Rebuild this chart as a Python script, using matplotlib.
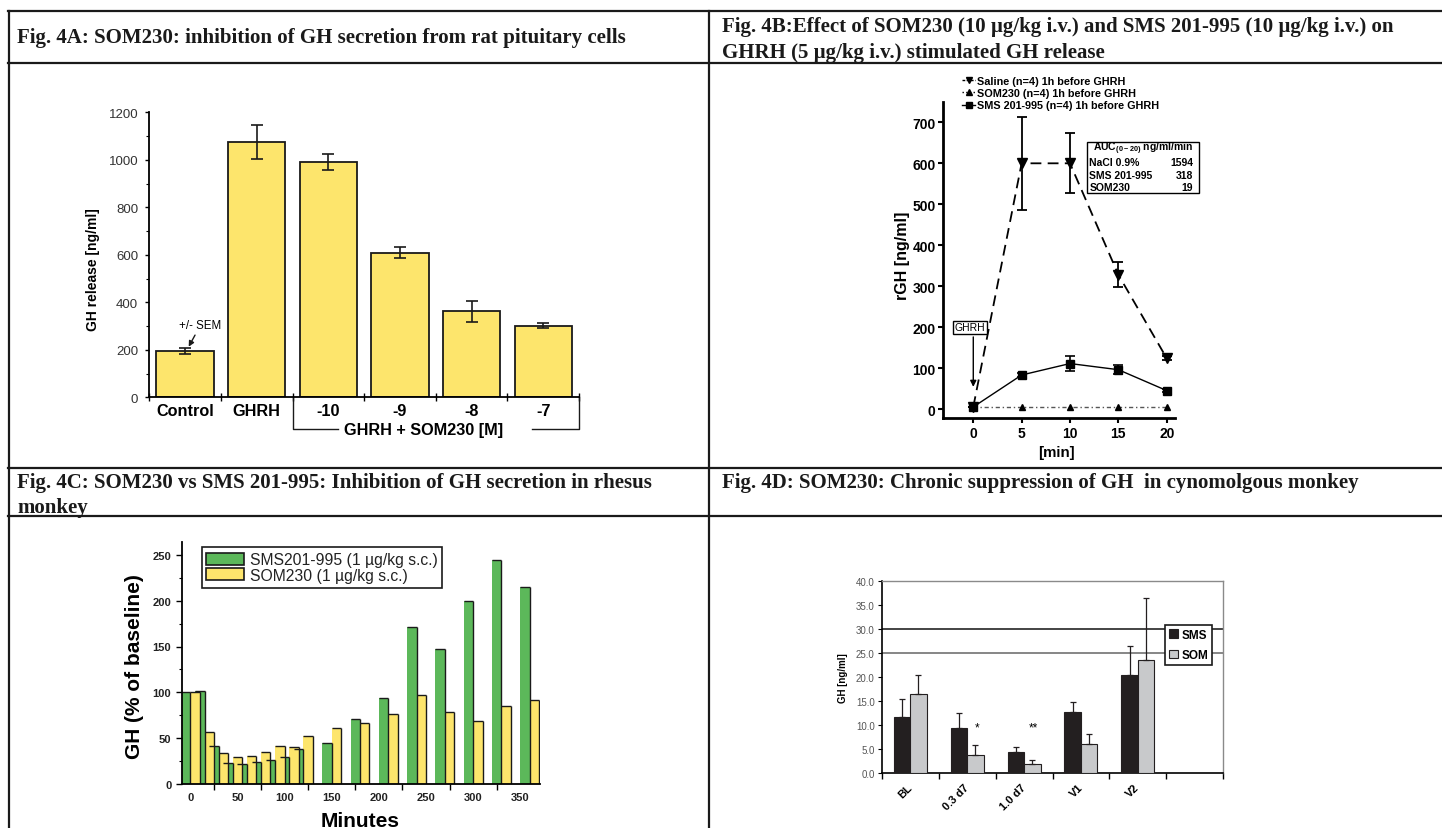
import numpy as np
import matplotlib
matplotlib.use("Agg")
import matplotlib.pyplot as plt
import matplotlib.transforms as mtransforms
from matplotlib.lines import Line2D
from matplotlib.patches import Patch, Rectangle

W, H = 1442, 829

# Fig. 4A: rat pituitary cells
a_labels = ["Control", "GHRH", "-10", "-9", "-8", "-7"]
a_values = [195, 1075, 991, 609, 362, 302]
a_errors = [12, 71, 35, 24, 45, 11]

# Fig. 4B: GHRH stimulated GH release
b_minutes = [0, 5, 10, 15, 20]
b_saline = [5, 600, 600, 328, 124]
b_saline_err = [0, 113, 73, 31, 5]
b_som230 = [4, 4, 4, 4, 4]
b_sms = [5, 83, 111, 96, 45]
b_sms_err = [0, 4, 19, 11, 4]
b_series = ["Saline (n=4) 1h before GHRH", "SOM230 (n=4) 1h before GHRH",
            "SMS 201-995 (n=4) 1h before GHRH"]
b_auc_names = ["NaCl 0.9%", "SMS 201-995", "SOM230"]
b_auc_values = [1594, 318, 19]

# Fig. 4C: rhesus monkey, % of baseline
c_minutes = [0, 15, 30, 45, 60, 75, 90, 105, 120, 150, 180, 210, 240, 270, 300, 330, 360]
c_sms = [100, 102, 42, 23, 22, 24, 26, 29, 38, 45, 71, 94, 171, 147, 200, 244, 215]
c_som = [100, 57, 34, 30, 31, 35, 41, 40, 52, 61, 67, 76, 97, 79, 69, 85, 92]
c_series = ["SMS201-995 (1 µg/kg s.c.)", "SOM230 (1 µg/kg s.c.)"]

# Fig. 4D: cynomolgus monkey
d_labels = ["BL", "0.3 d7", "1.0 d7", "V1", "V2", ""]
d_sms = [11.6, 9.3, 4.25, 12.6, 20.5]
d_sms_err = [3.7, 3.1, 1.15, 2.2, 6.0]
d_som = [16.4, 3.8, 1.75, 5.9, 23.5]
d_som_err = [4.1, 2.0, 0.85, 2.2, 13.1]
d_stars = ["", "*", "**", "", ""]
d_ref_lines = [30, 25]

YELLOW = "#FDE56C"
GREEN = "#5CB85A"
INK = "#1a1a1a"

plt.rcParams["font.family"] = ["Liberation Sans", "DejaVu Sans"]
plt.rcParams["mathtext.fontset"] = "custom"
plt.rcParams["mathtext.rm"] = "Liberation Sans:bold"

fig = plt.figure(figsize=(W / 100, H / 100), dpi=100)


def fx(x):
    return x / W


def fy(y):
    return 1 - y / H


def add_ax(x0, y0, x1, y1):
    return fig.add_axes([fx(x0), fy(y1), (x1 - x0) / W, (y1 - y0) / H])


# table grid and headers
grid_kw = dict(color=INK, lw=1.6, transform=fig.transFigure)
for y in (12.3, 64.3, 469.3, 517.3):
    fig.add_artist(Line2D([fx(8), 1], [fy(y), fy(y)], **grid_kw))
for x in (9, 709):
    fig.add_artist(Line2D([fx(x), fx(x)], [fy(11.5), 0], **grid_kw))

title_kw = dict(family="Liberation Serif", weight="bold", size=15,
                va="center", ha="left", color=INK)
fig.text(fx(17), fy(38.5), "Fig. 4A: SOM230: inhibition of GH secretion from rat pituitary cells", **title_kw)
fig.text(fx(721.5), fy(26.7), "Fig. 4B:Effect of SOM230 (10 µg/kg i.v.) and SMS 201-995 (10 µg/kg i.v.) on", **title_kw)
fig.text(fx(721.5), fy(53.3), "GHRH (5 µg/kg i.v.) stimulated GH release", **title_kw)
fig.text(fx(17), fy(483), "Fig. 4C: SOM230 vs SMS 201-995: Inhibition of GH secretion in rhesus", **title_kw)
fig.text(fx(17), fy(508), "monkey", **title_kw)
fig.text(fx(722), fy(483), "Fig. 4D: SOM230: Chronic suppression of GH  in cynomolgous monkey", **title_kw)

# ---------------- Fig. 4A ----------------
ax = add_ax(149.3, 113.3, 579, 398.3)
xa = np.arange(len(a_labels))
ax.bar(xa, a_values, width=0.8, color=YELLOW, edgecolor=INK, linewidth=1.3,
       yerr=a_errors, capsize=4.2,
       error_kw=dict(elinewidth=1.2, capthick=1.2, ecolor=INK))
ax.set_xlim(-0.5, 5.5)
ax.set_ylim(0, 1200)
ax.spines[["top", "right"]].set_visible(False)
ax.spines[["left", "bottom"]].set_linewidth(1.3)
ax.set_yticks(range(0, 1201, 200))
ax.set_yticks(range(100, 1200, 200), minor=True)
ax.tick_params(axis="y", which="major", length=3, width=1, labelsize=9.5,
               labelcolor="#333", pad=5)
ax.tick_params(axis="y", which="minor", length=2, width=0.8)
ax.set_xticks(xa, a_labels, fontsize=11.7, fontweight="bold")
ax.set_xticks(np.arange(len(a_labels) + 1) - 0.5, minor=True)
ax.tick_params(axis="x", which="major", length=0, pad=4)
ax.tick_params(axis="x", which="minor", length=6, width=1, direction="inout")
ax.set_ylabel("GH release [ng/ml]", fontsize=10, fontweight="bold",
              ha="center", va="center")
ax.yaxis.set_label_coords((93 - 149.3) / 429.7, (398.3 - 270) / 285)

trans = mtransforms.blended_transform_factory(ax.transData, ax.transAxes)
yb = -32 / 285
ax.plot([1.5, 1.5, 2.135], [0, yb, yb], transform=trans, clip_on=False,
        color=INK, lw=1)
ax.plot([4.84, 5.5, 5.5], [yb, yb, 0], transform=trans, clip_on=False,
        color=INK, lw=1)
ax.text(3.33, yb, "GHRH + SOM230 [M]", transform=trans, ha="center",
        va="center", fontsize=11.7, fontweight="bold")
ax.annotate("+/- SEM", xy=(0.05, a_values[0] + a_errors[0] + 6),
            xytext=(0.215, 304), ha="center", va="center", fontsize=8.3,
            arrowprops=dict(arrowstyle="-|>", color=INK, lw=1,
                            mutation_scale=8, shrinkA=1, shrinkB=0))

# ---------------- Fig. 4B ----------------
bx = add_ax(943.3, 103.3, 1175.4, 419.3)
bx.errorbar(b_minutes, b_saline, yerr=b_saline_err, color="k", marker="v",
            ms=7.5, ls=(0, (6, 3.5)), lw=1.3, capsize=3.5, elinewidth=1.3,
            capthick=1.3)
bx.plot(b_minutes, b_som230, color="#555", marker="^", ms=4.5,
        mfc="k", mec="k", ls=(0, (3, 2, 1, 2)), lw=1)
bx.errorbar(b_minutes, b_sms, yerr=b_sms_err, color="k", marker="s",
            ms=5.3, ls="-", lw=1, capsize=3.5, elinewidth=1.2, capthick=1.2)
bx.set_xlim(-3.1, 20.9)
bx.set_ylim(-22.7, 749)
bx.spines[["top", "right"]].set_visible(False)
bx.spines[["left", "bottom"]].set_linewidth(2)
bx.set_xticks(b_minutes)
bx.set_yticks(range(0, 701, 100))
bx.tick_params(length=3.5, width=1.5, labelsize=10, pad=2)
for lab in bx.get_xticklabels() + bx.get_yticklabels():
    lab.set_fontweight("bold")
bx.set_ylabel("rGH [ng/ml]", fontsize=11.5, fontweight="bold",
              ha="center", va="center")
bx.yaxis.set_label_coords((902.7 - 943.3) / 232.1, (419.3 - 255.8) / 316)
bx.set_xlabel("[min]", fontsize=10.8, fontweight="bold", ha="center",
              va="center")
bx.xaxis.set_label_coords((1056.7 - 943.3) / 232.1, (419.3 - 453.3) / 316)

b_handles = [
    Line2D([], [], color="k", marker="v", ms=5, ls=(0, (2, 1)), lw=1),
    Line2D([], [], color="k", marker="^", ms=5, ls=":", lw=1),
    Line2D([], [], color="k", marker="s", ms=4.5, ls="-", lw=1),
]
bx.legend(b_handles, b_series, loc="upper left",
          bbox_to_anchor=(fx(962), fy(77)), bbox_transform=fig.transFigure,
          frameon=False, prop=dict(size=7.8, weight="bold"),
          handlelength=1.2, handletextpad=0.15, labelspacing=0.2,
          borderpad=0, borderaxespad=0)

fig.add_artist(Rectangle((fx(1086.7), fy(194.3)), (1199.3 - 1086.7) / W,
                         (194.3 - 142.7) / H, transform=fig.transFigure,
                         fill=False, edgecolor="k", lw=1))
fig.text(fx(1143), fy(148.7), r"AUC$_{(0-20)}$ ng/ml/min", ha="center",
         va="center", fontsize=7.5, fontweight="bold")
for i, (name, val) in enumerate(zip(b_auc_names, b_auc_values)):
    yrow = 163.3 + i * 12.5
    fig.text(fx(1089.3), fy(yrow), name, ha="left", va="center",
             fontsize=7.5, fontweight="bold")
    fig.text(fx(1193.3), fy(yrow), str(val), ha="right", va="center",
             fontsize=7.5, fontweight="bold")

bx.annotate("", xy=(b_minutes[0], 54), xytext=(b_minutes[0], 176),
            arrowprops=dict(arrowstyle="-|>", color="k", lw=1,
                            mutation_scale=9, shrinkA=0, shrinkB=0))
bx.text(-0.37, 199.5, "GHRH", ha="center", va="center", fontsize=7.5,
        bbox=dict(boxstyle="square,pad=0.15", fc="white", ec="k", lw=1))

# ---------------- Fig. 4C ----------------
cx = add_ax(181.7, 543, 540, 785)
bw = 10
tm = np.array(c_minutes)
cx.bar(tm, c_sms, width=-bw, align="edge", color=GREEN, lw=0)
cx.vlines(tm, 0, c_sms, color=INK, lw=1)
cx.hlines(c_sms, tm - bw, tm, color=INK, lw=1)
cx.bar(tm, c_som, width=bw, align="edge", color=YELLOW, lw=0)
cx.vlines(tm + bw, 0, c_som, color=INK, lw=1)
cx.hlines(c_som, tm, tm + bw, color=INK, lw=1)
cx.set_xlim(-9.2, 371)
cx.set_ylim(0, 264)
cx.spines[["top", "right"]].set_visible(False)
cx.spines[["left", "bottom"]].set_linewidth(1.3)
cx.set_xticks(range(0, 351, 50))
cx.set_xticks(range(25, 350, 50), minor=True)
cx.set_yticks(range(0, 251, 50))
cx.set_yticks(range(25, 250, 50), minor=True)
cx.tick_params(axis="x", which="major", length=0, pad=6)
cx.tick_params(axis="x", which="minor", length=4, width=1)
cx.tick_params(axis="y", which="major", length=4, width=1)
cx.tick_params(axis="y", which="minor", length=2.5, width=0.8)
cx.tick_params(labelsize=8, labelcolor="#222")
for lab in cx.get_xticklabels() + cx.get_yticklabels():
    lab.set_fontweight("bold")
cx.set_ylabel("GH (% of baseline)", fontsize=15, fontweight="bold",
              ha="center", va="center")
cx.yaxis.set_label_coords((135 - 181.7) / 358.3, (785 - 666.7) / 242)
cx.set_xlabel("Minutes", fontsize=15, fontweight="bold", ha="center",
              va="center")
cx.xaxis.set_label_coords((360 - 181.7) / 358.3, (785 - 821.7) / 242)
c_handles = [Patch(facecolor=GREEN, edgecolor=INK, lw=1.2),
             Patch(facecolor=YELLOW, edgecolor=INK, lw=1.2)]
leg = cx.legend(c_handles, c_series, loc="upper left",
                bbox_to_anchor=(fx(201.7), fy(548.3)),
                bbox_transform=fig.transFigure, frameon=True, fancybox=False,
                edgecolor=INK, framealpha=1, fontsize=11.3, borderpad=0.3,
                handlelength=2.4, handleheight=0.8, handletextpad=0.35,
                labelspacing=0.05, borderaxespad=0)
leg.get_frame().set_linewidth(1.2)
for t in leg.get_texts():
    t.set_color("#222")

# ---------------- Fig. 4D ----------------
dx = add_ax(881.7, 582.3, 1223.3, 773.7)
xd = np.arange(len(d_sms))
zeros = np.zeros(len(d_sms))
dx.bar(xd - 0.145, d_sms, 0.29, color="#231f20", edgecolor="#231f20",
       lw=0.8, yerr=[zeros, d_sms_err], capsize=2.2,
       error_kw=dict(elinewidth=0.9, capthick=0.9, ecolor="#231f20"),
       label="SMS", zorder=3)
dx.bar(xd + 0.145, d_som, 0.29, color="#c8c9cb", edgecolor="#231f20",
       lw=0.8, yerr=[zeros, d_som_err], capsize=2.2,
       error_kw=dict(elinewidth=0.9, capthick=0.9, ecolor="#231f20"),
       label="SOM", zorder=3)
for yv, col in zip(d_ref_lines, ["#111", "#666"]):
    dx.axhline(yv, color=col, lw=1.1, zorder=2)
for i, s in enumerate(d_stars):
    if s:
        dx.text(xd[i] + 0.17, 8.3, s, ha="center", va="bottom", fontsize=8.5)
dx.set_xlim(-0.5, 5.5)
dx.set_ylim(0, 40)
dx.spines[["top", "right"]].set_color("#8a8a8a")
dx.spines[["top", "right"]].set_linewidth(1)
dx.spines[["left", "bottom"]].set_linewidth(1.2)
dx.set_yticks(range(0, 41, 5))
dx.yaxis.set_major_formatter(matplotlib.ticker.FormatStrFormatter("%.1f"))
dx.tick_params(axis="y", length=3, width=0.8, labelsize=7, labelcolor="#555",
               pad=2)
dx.set_xticks(range(len(d_labels)), d_labels, rotation=45, ha="right",
              va="center", rotation_mode="anchor", fontsize=8,
              fontweight="bold")
dx.set_xticks(np.arange(len(d_labels) + 1) - 0.5, minor=True)
dx.tick_params(axis="x", which="major", length=0, pad=9)
dx.tick_params(axis="x", which="minor", length=4, width=1)
dx.set_ylabel("GH [ng/ml]", fontsize=7, fontweight="bold", ha="center",
              va="center")
dx.yaxis.set_label_coords((843.3 - 881.7) / 341.6, (773.7 - 678.3) / 191.4)
dleg = dx.legend(loc="upper left", bbox_to_anchor=(fx(1165), fy(625.7)),
                 bbox_transform=fig.transFigure, frameon=True, fancybox=False,
                 edgecolor=INK, framealpha=1, prop=dict(size=8.5, weight="bold"),
                 borderpad=0.35, handlelength=0.75, handleheight=0.75,
                 handletextpad=0.3, labelspacing=0.7, borderaxespad=0)
dleg.get_frame().set_linewidth(1.2)
dleg.set_zorder(10)

fig.savefig("out.png", dpi=100)
